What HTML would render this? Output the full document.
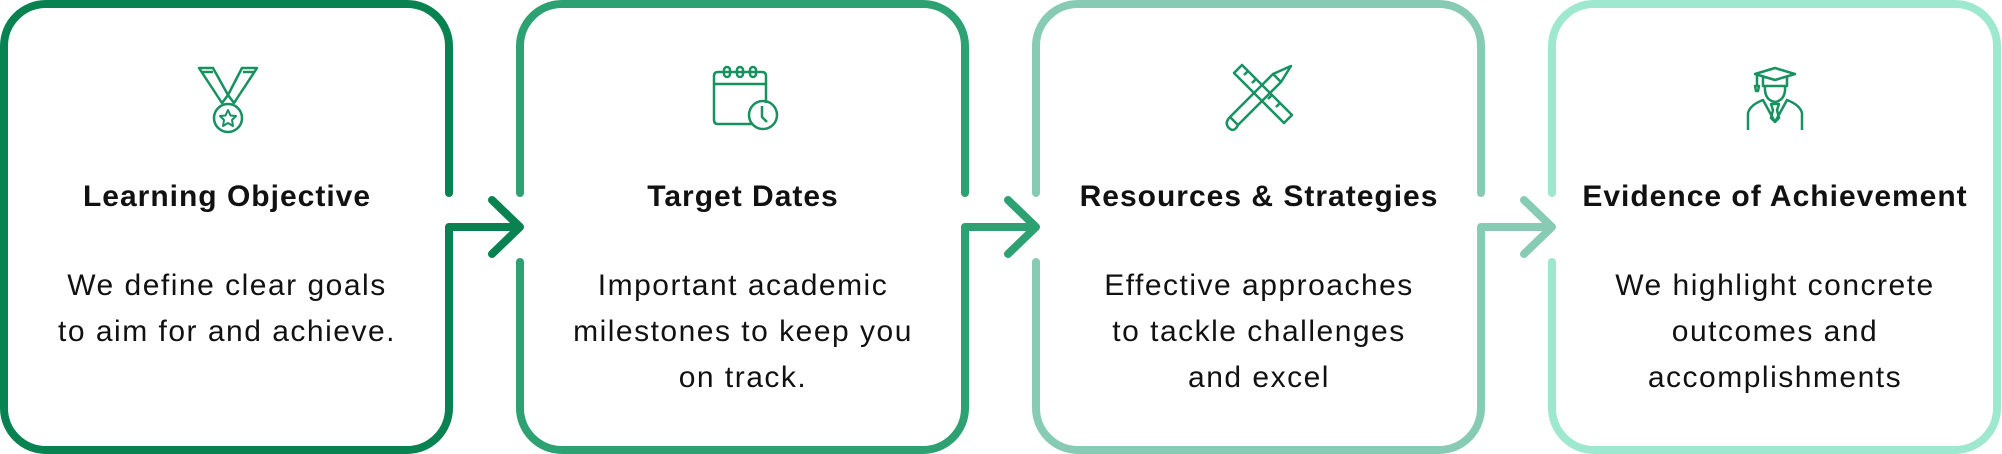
<!DOCTYPE html>
<html><head><style>
html,body{margin:0;padding:0;background:#fff;}
svg{display:block}
text{font-family:"Liberation Sans",sans-serif;text-anchor:middle;fill:#111;}
.t{font-weight:bold;font-size:30px;letter-spacing:1px;}
.b{font-size:30px;letter-spacing:1.5px;}
</style></head><body>
<svg width="2002" height="454" viewBox="0 0 2002 454" xmlns="http://www.w3.org/2000/svg">
<g fill="none" stroke-width="8" stroke-linecap="round" stroke-linejoin="round">
<path d="M449 193 V46 A42 42 0 0 0 407 4 H46 A42 42 0 0 0 4 46 V408 A42 42 0 0 0 46 450 H407 A42 42 0 0 0 449 408 V227 H520 M492 200 L520 227 L492 254" stroke="#088250"/>
<path d="M520 193 V46 A42 42 0 0 1 562 4 H923 A42 42 0 0 1 965 46 V193 M520 262 V408 A42 42 0 0 0 562 450 H923 A42 42 0 0 0 965 408 V227 H1036 M1008 200 L1036 227 L1008 254" stroke="#2ea172"/>
<path d="M1036 193 V46 A42 42 0 0 1 1078 4 H1439 A42 42 0 0 1 1481 46 V193 M1036 262 V408 A42 42 0 0 0 1078 450 H1439 A42 42 0 0 0 1481 408 V227 H1552 M1524 200 L1552 227 L1524 254" stroke="#88cbb5"/>
<path d="M1552 193 V46 A42 42 0 0 1 1594 4 H1955 A42 42 0 0 1 1997 46 V408 A42 42 0 0 1 1955 450 H1594 A42 42 0 0 1 1552 408 V262" stroke="#9de8cf"/>
</g>
<g fill="none" stroke="#17915f" stroke-width="2.5" stroke-linejoin="round">
<path d="M199 68 H213 L228 95 L222 103 Z M257 68 H242 L228 95 L234 103 Z"/>
<path d="M202 72 H213 M254 72 H243"/>
<circle cx="228" cy="118" r="14"/>
<path d="M228 110 L230.5 115.5 L236 116 L232 120 L233 126 L228 123 L223 126 L224 120 L220 116 L225.5 115.5 Z" stroke-width="2"/>
<path d="M752 124 H718 Q714 124 714 120 V76 Q714 72 718 72 H762 Q766 72 766 76 V103"/>
<path d="M714 84 H766"/>
<rect x="724" y="67" width="6" height="10" rx="3"/><rect x="737" y="67" width="6" height="10" rx="3"/><rect x="750" y="67" width="6" height="10" rx="3"/>
<circle cx="763" cy="115" r="14"/>
<path d="M762 106 V117 L767 122"/>
<path d="M1234 73 L1242 65 L1292 115 L1284 123 Z"/>
<path d="M1244 75 L1248 71 M1252 83 L1256 79 M1268 99 L1272 95 M1276 107 L1280 103"/>
<path d="M1230 117 L1273 74 L1281 82 L1238 125 Z M1273 74 L1291 66 L1281 82 M1230 117 Q1224 123 1229 128 Q1234 133 1238 125"/>
<path d="M1755 74 L1775 68 L1795 74 L1775 80 Z M1763 77 V86 H1787 V77 M1757 75 V86 M1755 86 h4 l-1 5 h-2 z"/>
<path d="M1765 86 Q1764 100 1775 102 Q1786 100 1785 86"/>
<path d="M1748 130 V113 Q1750 105 1763 100 L1775 122 L1787 100 Q1800 105 1802 113 V130 M1771 104 h8 l-2 6 l2 8 l-4 4 l-4-4 l2-8 z"/>
</g>
<text class="t" x="227" y="206">Learning Objective</text>
<text class="b" x="227" y="295">We define clear goals</text>
<text class="b" x="227" y="341">to aim for and achieve.</text>

<text class="t" x="743" y="206">Target Dates</text>
<text class="b" x="743" y="295">Important academic</text>
<text class="b" x="743" y="341">milestones to keep you</text>
<text class="b" x="743" y="387">on track.</text>

<text class="t" x="1259" y="206">Resources &amp; Strategies</text>
<text class="b" x="1259" y="295">Effective approaches</text>
<text class="b" x="1259" y="341">to tackle challenges</text>
<text class="b" x="1259" y="387">and excel</text>

<text class="t" x="1775" y="206">Evidence of Achievement</text>
<text class="b" x="1775" y="295">We highlight concrete</text>
<text class="b" x="1775" y="341">outcomes and</text>
<text class="b" x="1775" y="387">accomplishments</text>
</svg>
</body></html>
